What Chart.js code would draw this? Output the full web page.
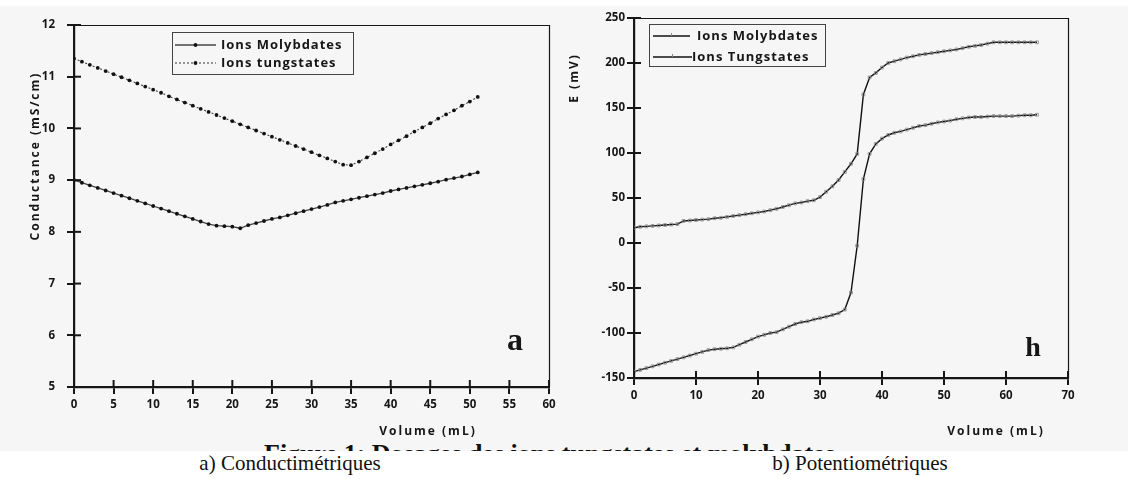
<!DOCTYPE html>
<html>
<head>
<meta charset="utf-8">
<script src="https://cdn.jsdelivr.net/npm/chart.js@4/dist/chart.umd.min.js"></script>
<style>
  html, body { margin: 0; padding: 0; background: #fff; }
  #page { position: relative; width: 1128px; height: 479px; overflow: hidden; }
  #bg { position: absolute; left: 0; top: 6px; width: 1128px; height: 445px; background: #f6f6f6; }
  .box { position: absolute; top: 0; height: 450px; }
  .cap { position: absolute; top: 451px; width: 300px; text-align: center;
         font: 21px "Liberation Serif", "DejaVu Serif", serif; color: #111; }
  #fig { position: absolute; left: 264px; top: 442px; width: 580px; height: 9px; overflow: hidden; }
  #fig span { position: absolute; left: 0; top: -3px; white-space: nowrap;
              font: bold 26px "Liberation Serif", serif; color: #111; line-height: normal; }
</style>
</head>
<body>
<div id="page">
  <div id="bg"></div>
  <div id="fig"><span>Figure 1: Dosages des ions tungstates et molybdates</span></div>
  <div class="box" style="left:0;width:560px"><canvas id="condChart"></canvas></div>
  <div class="box" style="left:560px;width:568px"><canvas id="potChart"></canvas></div>
  <div class="cap" style="left:140px">a) Conductimétriques</div>
  <div class="cap" style="left:710px">b) Potentiométriques</div>
</div>
<script>
// --- a) conductimetric titration ---
const volumeA = [0, 1, 2, 3, 4, 5, 6, 7, 8, 9, 10, 11, 12, 13, 14, 15, 16, 17, 18, 19, 20,
  21, 22, 23, 24, 25, 26, 27, 28, 29, 30, 31, 32, 33, 34, 35, 36, 37, 38, 39, 40,
  41, 42, 43, 44, 45, 46, 47, 48, 49, 50, 51];
const molybdateCond = [9.00, 8.95, 8.90, 8.85, 8.80, 8.75, 8.70, 8.65, 8.60, 8.55, 8.50,
  8.45, 8.40, 8.35, 8.30, 8.25, 8.20, 8.15, 8.12, 8.11, 8.10,
  8.07, 8.13, 8.17, 8.21, 8.25, 8.28, 8.32, 8.36, 8.40, 8.44,
  8.48, 8.52, 8.57, 8.60, 8.63, 8.66, 8.69, 8.72, 8.75, 8.79,
  8.82, 8.85, 8.88, 8.91, 8.94, 8.97, 9.01, 9.04, 9.07, 9.11, 9.15];
const tungstateCond = [11.35, 11.29, 11.23, 11.17, 11.11, 11.05, 10.99, 10.93, 10.87, 10.81, 10.75,
  10.69, 10.62, 10.56, 10.50, 10.44, 10.38, 10.32, 10.26, 10.20, 10.14,
  10.08, 10.02, 9.96, 9.90, 9.84, 9.78, 9.72, 9.66, 9.60, 9.54,
  9.48, 9.42, 9.36, 9.30, 9.29, 9.36, 9.44, 9.52, 9.60, 9.69,
  9.77, 9.85, 9.94, 10.02, 10.10, 10.19, 10.27, 10.35, 10.44, 10.52, 10.61];

// --- b) potentiometric titration ---
const volumeB = [0, 1, 2, 3, 4, 5, 6, 7, 8, 9, 10, 11, 12, 13, 14, 15, 16, 17, 18, 19, 20,
  21, 22, 23, 24, 25, 26, 27, 28, 29, 30, 31, 32, 33, 34, 35, 36, 37, 38, 39, 40,
  41, 42, 43, 44, 45, 46, 47, 48, 49, 50, 51, 52, 53, 54, 55, 56, 57, 58, 59, 60,
  61, 62, 63, 64, 65];
const molybdatePot = [-143, -141, -139, -137, -135, -133, -131, -129, -127, -125, -123,
  -121, -119, -118, -117.5, -117, -116, -113, -110, -107, -104,
  -102, -100, -99, -96, -93, -90, -88, -87, -85, -83.5,
  -82, -80, -78, -74, -55, -3, 71, 99, 110, 116,
  120, 122.5, 124, 126, 128, 130, 131, 132.5, 134, 135,
  136, 137.5, 138.5, 139.5, 140, 140, 140.5, 141, 141, 141,
  141, 141.5, 142, 142, 142.5];
const tungstatePot = [17, 18, 18.5, 19, 19.5, 20, 20.5, 21, 24.5, 25, 25.5,
  26, 26.5, 27.5, 28, 29, 30, 31, 32, 33, 34,
  35, 36.5, 38, 40, 42, 44, 45, 46.5, 47.5, 51,
  57, 63, 70, 79, 88, 99, 165, 184, 189, 195,
  200, 202, 204, 206, 207.5, 209, 210, 211, 212, 213,
  214, 215, 216.5, 218, 219, 220, 221.5, 223, 223, 223,
  223, 223, 223, 223, 223];

const seriesA = ['Ions Molybdates', 'Ions tungstates'];
const seriesB = ['Ions Molybdates', 'Ions Tungstates'];

const pts = (xs, ys) => xs.map((x, i) => ({ x: x, y: ys[i] }));

const SANS = '"Open Sans"';
const tickFont = { family: SANS, weight: 'bold', size: 11.5 };
const INK = '#161616';

// frame, inner tick halves, titles, legend and panel letter
const decor = {
  id: 'decor',
  afterDraw(chart, args, o) {
    const { ctx, chartArea: a, scales } = chart;
    ctx.save();
    ctx.strokeStyle = INK;
    ctx.lineWidth = 1.2;
    ctx.beginPath();
    ctx.moveTo(a.left, a.top + 0.5); ctx.lineTo(a.right + 0.5, a.top + 0.5);
    ctx.lineTo(a.right + 0.5, a.bottom);
    ctx.stroke();

    ctx.lineWidth = 2;
    scales.x.ticks.forEach((t, i) => {
      const px = scales.x.getPixelForTick(i);
      ctx.beginPath(); ctx.moveTo(px, a.bottom); ctx.lineTo(px, a.bottom - o.tick); ctx.stroke();
    });
    scales.y.ticks.forEach((t, i) => {
      const py = scales.y.getPixelForTick(i);
      ctx.beginPath(); ctx.moveTo(a.left, py); ctx.lineTo(a.left + o.tick, py); ctx.stroke();
    });

    // axis titles
    ctx.fillStyle = INK;
    ctx.font = 'bold 12px ' + SANS;
    ctx.letterSpacing = '2px';
    ctx.textAlign = 'center';
    ctx.textBaseline = 'middle';
    ctx.fillText(o.xTitle, o.xTitlePos[0], o.xTitlePos[1]);
    ctx.save();
    ctx.translate(o.yTitlePos[0], o.yTitlePos[1]);
    ctx.rotate(-Math.PI / 2);
    ctx.fillText(o.yTitle, 0, 0);
    ctx.restore();

    // panel letter
    ctx.letterSpacing = '0px';
    ctx.font = o.letterFont;
    ctx.textBaseline = 'alphabetic';
    ctx.fillText(o.letter, o.letterPos[0], o.letterPos[1]);

    // legend
    const L = o.legend;
    ctx.lineWidth = 1;
    ctx.strokeStyle = '#444';
    ctx.strokeRect(L.box[0] + 0.5, L.box[1] + 0.5, L.box[2], L.box[3]);
    ctx.font = 'bold 13px ' + SANS;
    ctx.letterSpacing = '1px';
    ctx.textAlign = 'left';
    ctx.textBaseline = 'middle';
    chart.data.datasets.forEach((ds, i) => {
      const r = L.rows[i];
      ctx.strokeStyle = ds.borderColor;
      ctx.lineWidth = ds.borderWidth;
      ctx.setLineDash(ds.borderDash || []);
      ctx.beginPath(); ctx.moveTo(r.x0, r.y); ctx.lineTo(r.x1, r.y); ctx.stroke();
      ctx.setLineDash([]);
      const mx = (r.x0 + r.x1) / 2;
      if (ds.pointStyle === 'circle') {
        ctx.fillStyle = ds.pointBackgroundColor;
        ctx.beginPath(); ctx.arc(mx, r.y, ds.pointRadius, 0, Math.PI * 2); ctx.fill();
      } else {
        ctx.strokeStyle = ds.pointBorderColor;
        ctx.lineWidth = 1;
        ctx.beginPath(); ctx.moveTo(mx, r.y - 3); ctx.lineTo(mx, r.y); ctx.stroke();
      }
      ctx.fillStyle = INK;
      ctx.fillText(ds.label, r.tx, r.y);
    });
    ctx.restore();
  }
};

const axisCommon = (min, max, step, pad) => ({
  type: 'linear',
  min: min, max: max,
  ticks: { stepSize: step, color: INK, font: tickFont, padding: pad },
  grid: { display: true, drawOnChartArea: false, drawTicks: true, tickLength: 7, color: INK, lineWidth: 2 },
  border: { display: true, color: INK, width: 2.2 }
});

new Chart(document.getElementById('condChart'), {
  type: 'line',
  data: {
    datasets: [
      { label: seriesA[0], data: pts(volumeA, molybdateCond), borderColor: '#444', borderWidth: 1.3,
        pointStyle: 'circle', pointRadius: 1.9, pointBackgroundColor: '#111', pointBorderWidth: 0 },
      { label: seriesA[1], data: pts(volumeA, tungstateCond), borderColor: '#444', borderWidth: 1.1,
        borderDash: [2, 2], pointStyle: 'circle', pointRadius: 1.9, pointBackgroundColor: '#111', pointBorderWidth: 0 }
    ]
  },
  options: {
    responsive: true, maintainAspectRatio: false, animation: false,
    layout: { padding: { top: 25, right: 11, left: 0, bottom: 0 } },
    scales: {
      x: Object.assign(axisCommon(0, 60, 5, 4), { afterFit: s => { s.height = 63; } }),
      y: Object.assign(axisCommon(5, 12, 1, 12), { afterFit: s => { s.width = 74; } })
    },
    plugins: {
      legend: { display: false }, tooltip: { enabled: false },
      decor: {
        tick: 7,
        xTitle: 'Volume (mL)', xTitlePos: [428, 432],
        yTitle: 'Conductance (mS/cm)', yTitlePos: [36, 156],
        letter: 'a', letterPos: [515, 350], letterFont: 'bold 32px "Liberation Serif"',
        legend: { box: [172, 32, 181, 42],
          rows: [ { x0: 175, x1: 216, y: 45, tx: 221 }, { x0: 175, x1: 216, y: 63, tx: 221 } ] }
      }
    }
  },
  plugins: [decor]
});

new Chart(document.getElementById('potChart'), {
  type: 'line',
  data: {
    datasets: [
      { label: seriesB[0], data: pts(volumeB, molybdatePot), borderColor: '#111', borderWidth: 1.4,
        pointStyle: 'rect', pointRadius: 2, pointBackgroundColor: 'rgba(0,0,0,0)', pointBorderColor: '#888', pointBorderWidth: 0.8 },
      { label: seriesB[1], data: pts(volumeB, tungstatePot), borderColor: '#111', borderWidth: 1.4,
        pointStyle: 'rect', pointRadius: 2, pointBackgroundColor: 'rgba(0,0,0,0)', pointBorderColor: '#888', pointBorderWidth: 0.8 }
    ]
  },
  options: {
    responsive: true, maintainAspectRatio: false, animation: false,
    layout: { padding: { top: 18, right: 60, left: 0, bottom: 0 } },
    scales: {
      x: Object.assign(axisCommon(0, 70, 10, 4), { afterFit: s => { s.height = 72; } }),
      y: Object.assign(axisCommon(-150, 250, 50, 2), { afterFit: s => { s.width = 74; } })
    },
    plugins: {
      legend: { display: false }, tooltip: { enabled: false },
      decor: {
        tick: 7,
        xTitle: 'Volume (mL)', xTitlePos: [436, 432],
        yTitle: 'E (mV)', yTitlePos: [15, 78],
        letter: 'h', letterPos: [473, 356], letterFont: 'bold 28px "Liberation Serif"',
        legend: { box: [89, 24, 176, 42],
          rows: [ { x0: 93, x1: 130, y: 36, tx: 137 }, { x0: 93, x1: 132, y: 57, tx: 132 } ] }
      }
    }
  },
  plugins: [decor]
});
</script>
</body>
</html>
